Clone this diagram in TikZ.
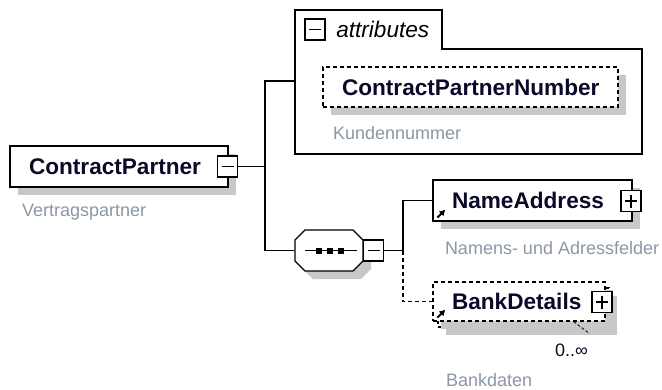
\documentclass[tikz,border=0pt]{standalone}
\usepackage{fontspec}
\setmainfont{Liberation Sans}
\usepackage{xcolor}
\usetikzlibrary{positioning,shadows,arrows.meta}
\definecolor{descgray}{RGB}{140,150,165}
\definecolor{shadegray}{RGB}{200,200,200}
\definecolor{namecolor}{RGB}{10,10,40}

\begin{document}
\begin{tikzpicture}[
    x=1pt, y=-1pt, line width=1.2pt,
    boxshadow/.style={drop shadow={shadow xshift=8pt, shadow yshift=-8pt, fill=shadegray, opacity=1, draw=none}},
    elembox/.style={draw, fill=white, inner xsep=19pt, inner ysep=0pt, align=left, minimum height=41pt, text=namecolor, font=\fontsize{22.6}{26}\selectfont\bfseries, boxshadow},
    optbox/.style={elembox, dash pattern=on 4pt off 3pt},
    iconbox/.style={draw, fill=white, line width=1.4pt, minimum width=20pt, minimum height=21pt, inner sep=0pt},
    iconminus/.style={iconbox, path picture={
        \draw[line width=1.4pt] ([xshift=4pt]path picture bounding box.west) -- ([xshift=-4pt]path picture bounding box.east);}},
    iconplus/.style={iconbox, path picture={
        \draw[line width=1.4pt] ([xshift=4pt]path picture bounding box.west) -- ([xshift=-4pt]path picture bounding box.east);
        \draw[line width=1.4pt] ([yshift=-4pt]path picture bounding box.north) -- ([yshift=4pt]path picture bounding box.south);}},
    seqbox/.style={minimum width=68pt, minimum height=41pt, inner sep=0pt},
    desc/.style={text=descgray, font=\fontsize{18}{21}\selectfont, inner sep=0pt},
    refarrow/.style={line width=2pt, -{Latex[length=6pt,width=7pt]}}
]
    \useasboundingbox (0,0) rectangle (662,389);

    % root element
    \node[elembox, text width=180pt] (cp) at (119,166.5) {ContractPartner};
    \node[iconminus] (cp-minus) at (227.5,166.5) {};
    \node[desc, below right=25pt and 12pt of cp.south west, anchor=west] (cp-desc) {Vertragspartner};

    % attributes
    \draw[fill=white] (295,10) -- (442,10) -- (442,49) -- (642,49) -- (642,154) -- (295,154) -- cycle;
    \coordinate (attr-in) at (295,81);
    \node[iconminus] (attr-minus) at (315,29.5) {};
    \node[right=10pt of attr-minus, inner sep=0pt, font=\fontsize{22.6}{26}\selectfont\itshape] (attr-label) {attributes};
    \node[optbox, text width=257pt, minimum height=40pt] (cpnum) at (470.5,87) {ContractPartnerNumber};
    \node[desc, below right=25pt and 10pt of cpnum.south west, anchor=west] (cpnum-desc) {Kundennummer};

    % sequence
    \node[seqbox] (seq) at (329,250.5) {};
    \draw[fill=white, boxshadow, shift={(seq.center)}] (-24,-20.5) -- (24,-20.5) -- (34,-10.5) -- (34,10.5)
        -- (24,20.5) -- (-24,20.5) -- (-34,10.5) -- (-34,-10.5) -- cycle;
    \draw[shift={(seq.center)}] (-24,0) -- (28,0);
    \foreach \dx in {-10,1,12}
        \fill[shift={(seq.center)}] ({\dx-3},-3) rectangle ++(6,6);
    \node[iconminus] (seq-minus) at (373.5,250.5) {};

    % children
    \node[elembox, text width=161pt] (nameaddr) at (532.5,200.5) {NameAddress};
    \node[iconplus] (nameaddr-plus) at (631,201) {};
    \draw[refarrow, shift={(nameaddr.south west)}] (5,-4) -- (13,-12);
    \node[desc, below right=26pt and 12pt of nameaddr.south west, anchor=west] (nameaddr-desc) {Namens- und Adressfelder};

    \node[optbox, minimum width=171pt, minimum height=39pt, inner sep=0pt] (bank-back) at (523.5,307.5) {};
    \node[optbox, text width=134pt, minimum height=39pt, boxshadow/.style={}] (bank) at (519,301.5) {BankDetails};
    \node[iconplus] (bank-plus) at (602,302) {};
    \draw[refarrow, shift={(bank.south west)}] (5,-4) -- (13,-12);
    \draw[line width=0.8pt, dash pattern=on 3pt off 2pt, shift={(bank.south east)}] (-32,0) -- (-16,12);
    \node[below left=23pt and 38pt of bank-back.south east, anchor=center, inner sep=0pt, text=namecolor, font=\fontsize{18}{21}\selectfont] (bank-mult) {0..∞};
    \node[desc, below right=52pt and 8pt of bank-back.south west, anchor=west] (bank-desc) {Bankdaten};

    % connectors
    \coordinate (fork1) at (265,166.5);
    \coordinate (fork2) at (403,250.5);
    \draw (cp-minus.east) -- (fork1) |- (attr-in);
    \draw (fork1) |- (seq.west);
    \draw (seq-minus.east) -- (fork2) |- (nameaddr.west);
    \draw[dash pattern=on 4pt off 3pt] (fork2) |- (bank.west);
\end{tikzpicture}
\end{document}
